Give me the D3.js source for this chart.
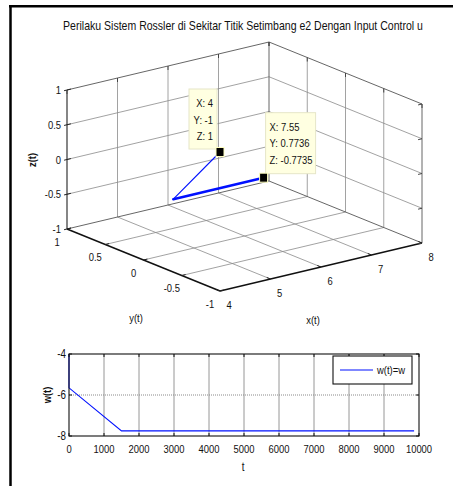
<!DOCTYPE html>
<html>
<head>
<meta charset="utf-8">
<script src="https://cdn.jsdelivr.net/npm/d3@7/dist/d3.min.js"></script>
<style>
  html, body { margin: 0; padding: 0; background: #fff; }
  svg { display: block; }
  text { font-family: "Liberation Sans", Arial, Helvetica, sans-serif; fill: #111; }
</style>
</head>
<body>
<script>
// ---------- DATA ----------
const titleText = "Perilaku Sistem Rossler di Sekitar Titik Setimbang e2 Dengan Input Control u";
// 3D trajectory (x(t), y(t), z(t))
const trajX = [4, 5.76, 7.55];
const trajY = [-1, 0.772, 0.7736];
const trajZ = [1, -0.773, -0.7735];
// 3D axis ticks
const xTicks3 = [4, 5, 6, 7, 8];
const yTicks3 = [-1, -0.5, 0, 0.5, 1];
const zTicks3 = [-1, -0.5, 0, 0.5, 1];
const yTickLabels3 = ["-1", "-0.5", "0", "0.5", "1"];
const zTickLabels3 = ["-1", "-0.5", "0", "0.5", "1"];
// data tips
const tipPoints = [[4, -1, 1], [7.55, 0.7736, -0.7735]];
const tipTexts = [["X: 4", "Y: -1", "Z: 1"], ["X: 7.55", "Y: 0.7736", "Z: -0.7735"]];
// w(t) series
const wT = [0, 0, 1500, 9860];
const wVal = [-4, -5.65, -7.75, -7.75];
const tTicks = [0, 1000, 2000, 3000, 4000, 5000, 6000, 7000, 8000, 9000, 10000];
const wTicks = [-8, -6, -4];
const legendLabel = "w(t)=w";

// ---------- SETUP ----------
const W = 453, H = 486;
const svg = d3.select("body").append("svg").attr("width", W).attr("height", H);
svg.append("rect").attr("width", W).attr("height", H).attr("fill", "#fff");

const SX = 0.82; // horizontal condensing of text
function label(g, x, y, s, o = {}) {
  const gg = g.append("g").attr("transform", `translate(${x},${y})` + (o.rotate ? ` rotate(${o.rotate})` : ""));
  const t = gg.append("text")
    .attr("transform", `scale(${o.sx || SX},1)`)
    .attr("text-anchor", o.anchor || "middle")
    .attr("dy", o.dy != null ? o.dy : "0.35em")
    .style("font-size", (o.size || 11.5) + "px")
    .text(s);
  if (o.bold) t.style("font-weight", "bold");
  return t;
}

// outer frame (partial, as in the reference)
svg.append("line").attr("x1", 9).attr("x2", W).attr("y1", 6.2).attr("y2", 6.2).attr("stroke", "#000").attr("stroke-width", 2.5);
svg.append("line").attr("x1", 10.5).attr("x2", 10.5).attr("y1", 5).attr("y2", H).attr("stroke", "#000").attr("stroke-width", 2.5);

// title (condensed to the reference width)
const tt = label(svg, 243, 26, titleText, { size: 12 });
const natural = tt.node().getComputedTextLength();
tt.attr("transform", `scale(${360 / natural},1)`);

// ---------- 3D PLOT ----------
const sx = d3.scaleLinear().domain([4, 8]).range([0, 1]);
const sy = d3.scaleLinear().domain([1, -1]).range([0, 1]);
const sz = d3.scaleLinear().domain([-1, 1]).range([0, 1]);
const O = [67, 229], EX = [202, -48], EY = [153, 62], EZ = [0, -139];
function P(x, y, z) {
  const a = sx(x), b = sy(y), c = sz(z);
  return [O[0] + a * EX[0] + b * EY[0] + c * EZ[0], O[1] + a * EX[1] + b * EY[1] + c * EZ[1]];
}
const g3 = svg.append("g");
function seg(p, q, color, w, dash) {
  const a = P(...p), b = P(...q);
  const l = g3.append("line").attr("x1", a[0]).attr("y1", a[1]).attr("x2", b[0]).attr("y2", b[1])
    .attr("stroke", color).attr("stroke-width", w);
  if (dash) l.attr("stroke-dasharray", dash);
  return l;
}
const gridC = "#8a8a8a", gridW = 0.8;
const xMin = 4, xMax = 8, yMin = -1, yMax = 1, zMin = -1, zMax = 1;
const xIn = xTicks3.filter(v => v > xMin && v < xMax);
const yIn = yTicks3.filter(v => v > yMin && v < yMax);
const zIn = zTicks3.filter(v => v > zMin && v < zMax);
// floor grid (z = zMin)
xIn.forEach(v => seg([v, yMax, zMin], [v, yMin, zMin], gridC, gridW));
yIn.forEach(v => seg([xMin, v, zMin], [xMax, v, zMin], gridC, gridW));
// back wall y = yMax
xIn.forEach(v => seg([v, yMax, zMin], [v, yMax, zMax], gridC, gridW));
zIn.forEach(v => seg([xMin, yMax, v], [xMax, yMax, v], gridC, gridW));
// side wall x = xMax
yIn.forEach(v => seg([xMax, v, zMin], [xMax, v, zMax], gridC, gridW));
zIn.forEach(v => seg([xMax, yMax, v], [xMax, yMin, v], gridC, gridW));
// back box edges
const edgeC = "#555";
seg([xMin, yMax, zMax], [xMax, yMax, zMax], edgeC, 0.9);
seg([xMax, yMax, zMax], [xMax, yMin, zMax], edgeC, 0.9);
seg([xMax, yMax, zMin], [xMax, yMax, zMax], edgeC, 0.9);
seg([xMax, yMin, zMin], [xMax, yMin, zMax], edgeC, 0.9);
seg([xMin, yMax, zMin], [xMax, yMax, zMin], edgeC, 0.9);
seg([xMax, yMax, zMin], [xMax, yMin, zMin], edgeC, 0.9);
// main axes
seg([xMin, yMax, zMin], [xMin, yMax, zMax], "#222", 1.1);
seg([xMin, yMax, zMin], [xMin, yMin, zMin], "#111", 1.5);
seg([xMin, yMin, zMin], [xMax, yMin, zMin], "#111", 1.5);

// tick marks
function tick(p, dir, len, color) {
  const a = P(...p);
  g3.append("line").attr("x1", a[0]).attr("y1", a[1]).attr("x2", a[0] + dir[0] * len).attr("y2", a[1] + dir[1] * len)
    .attr("stroke", color || "#222").attr("stroke-width", 1);
}
function unit(v) { const n = Math.hypot(v[0], v[1]); return [v[0] / n, v[1] / n]; }
const ux = unit(EX), uy = unit(EY);
zTicks3.forEach(v => { tick([xMin, yMax, v], ux, 4); tick([xMin, yMax, v], [-ux[0], -ux[1]], 3); tick([xMax, yMin, v], [-ux[0], -ux[1]], 4, "#444"); });
xTicks3.forEach(v => { tick([v, yMin, zMin], [-uy[0], -uy[1]], 4); tick([v, yMax, zMax], [0, 1], 4, "#444"); });
yTicks3.forEach(v => { tick([xMin, v, zMin], ux, 4); tick([xMax, v, zMax], [0, 1], 4, "#444"); });

// tick labels
zTicks3.forEach((v, i) => { const p = P(xMin, yMax, v); label(g3, p[0] - 6, p[1], zTickLabels3[i], { anchor: "end" }); });
yTicks3.forEach((v, i) => { const p = P(xMin, v, zMin); label(g3, p[0] - 10, p[1] + 12.5, yTickLabels3[i]); });
xTicks3.forEach(v => { const p = P(v, yMin, zMin); label(g3, p[0] + 9, p[1] + 14, String(v)); });
// axis labels
label(g3, 136, 318, "y(t)");
label(g3, 313, 320, "x(t)");
label(g3, 32, 160, "z(t)", { rotate: -90, size: 11.5, bold: true });

// trajectory
const traj = trajX.map((x, i) => P(x, trajY[i], trajZ[i]));
for (let i = 0; i < traj.length - 1; i++) {
  g3.append("line").attr("x1", traj[i][0]).attr("y1", traj[i][1]).attr("x2", traj[i + 1][0]).attr("y2", traj[i + 1][1])
    .attr("stroke", "#0010ff").attr("stroke-width", i === 0 ? 1.1 : 2.6).attr("stroke-linecap", "round");
}

// data tips
tipPoints.forEach((pt, k) => {
  const p = P(...pt);
  const lines = tipTexts[k];
  let bx, by, bw, bh, tx, anchor;
  if (k === 0) { bw = 28; bh = 60; bx = p[0] - 31; by = p[1] - 63; tx = bx + bw - 4; anchor = "end"; }
  else { bw = 50; bh = 61; bx = p[0] + 2; by = p[1] - 65; tx = bx + 4; anchor = "start"; }
  g3.append("rect").attr("x", bx).attr("y", by).attr("width", bw).attr("height", bh)
    .attr("fill", "#ffffe1").attr("stroke", "#e6e6c8").attr("stroke-width", 1);
  lines.forEach((s, j) => label(g3, tx, by + 14 + j * 16.7, s, { anchor: anchor }));
  g3.append("rect").attr("x", p[0] - 4).attr("y", p[1] - 4.5).attr("width", 8).attr("height", 9)
    .attr("fill", "#000").attr("stroke", "#ffffc0").attr("stroke-width", 1);
});

// ---------- 2D PLOT w(t) ----------
const L = 69, R = 419, T = 354, B = 436;
const xs = d3.scaleLinear().domain([0, 10000]).range([L, R]);
const ys = d3.scaleLinear().domain([-8, -4]).range([B, T]);
const g2 = svg.append("g");
// grid
tTicks.forEach(v => { if (v > 0 && v < 10000) g2.append("line").attr("x1", xs(v)).attr("x2", xs(v)).attr("y1", T).attr("y2", B).attr("stroke", "#8a8a8a").attr("stroke-width", 0.9); });
wTicks.forEach(v => { if (v > -8 && v < -4) g2.append("line").attr("x1", L).attr("x2", R).attr("y1", ys(v)).attr("y2", ys(v)).attr("stroke", "#8a8a8a").attr("stroke-width", 1).attr("stroke-dasharray", "1,1"); });
// line
const lineGen = d3.line().x(d => xs(d[0])).y(d => ys(d[1]));
g2.append("path").datum(wT.map((t, i) => [t, wVal[i]])).attr("d", lineGen)
  .attr("fill", "none").attr("stroke", "#0010ff").attr("stroke-width", 1.1);
// box
g2.append("rect").attr("x", L).attr("y", T).attr("width", R - L).attr("height", B - T)
  .attr("fill", "none").attr("stroke", "#111").attr("stroke-width", 1.1);
// ticks (inside, on both sides)
tTicks.forEach(v => {
  g2.append("line").attr("x1", xs(v)).attr("x2", xs(v)).attr("y1", B).attr("y2", B - 3).attr("stroke", "#111");
  g2.append("line").attr("x1", xs(v)).attr("x2", xs(v)).attr("y1", T).attr("y2", T + 3).attr("stroke", "#111");
  label(g2, xs(v), 449, String(v));
});
wTicks.forEach(v => {
  g2.append("line").attr("x1", L).attr("x2", L + 3).attr("y1", ys(v)).attr("y2", ys(v)).attr("stroke", "#111");
  g2.append("line").attr("x1", R).attr("x2", R - 3).attr("y1", ys(v)).attr("y2", ys(v)).attr("stroke", "#111");
  label(g2, L - 3, ys(v), String(v), { anchor: "end", size: 12 });
});
label(g2, 47, 395, "w(t)", { rotate: -90, size: 11.5, bold: true });
label(g2, 243, 467, "t", { size: 12 });
// legend
g2.append("rect").attr("x", 333).attr("y", 356).attr("width", 79).attr("height", 28)
  .attr("fill", "#fff").attr("stroke", "#111").attr("stroke-width", 1.1);
g2.append("line").attr("x1", 340).attr("x2", 373).attr("y1", 370).attr("y2", 370).attr("stroke", "#0010ff").attr("stroke-width", 1.1);
label(g2, 377, 370, legendLabel, { anchor: "start" });
</script>
</body>
</html>
